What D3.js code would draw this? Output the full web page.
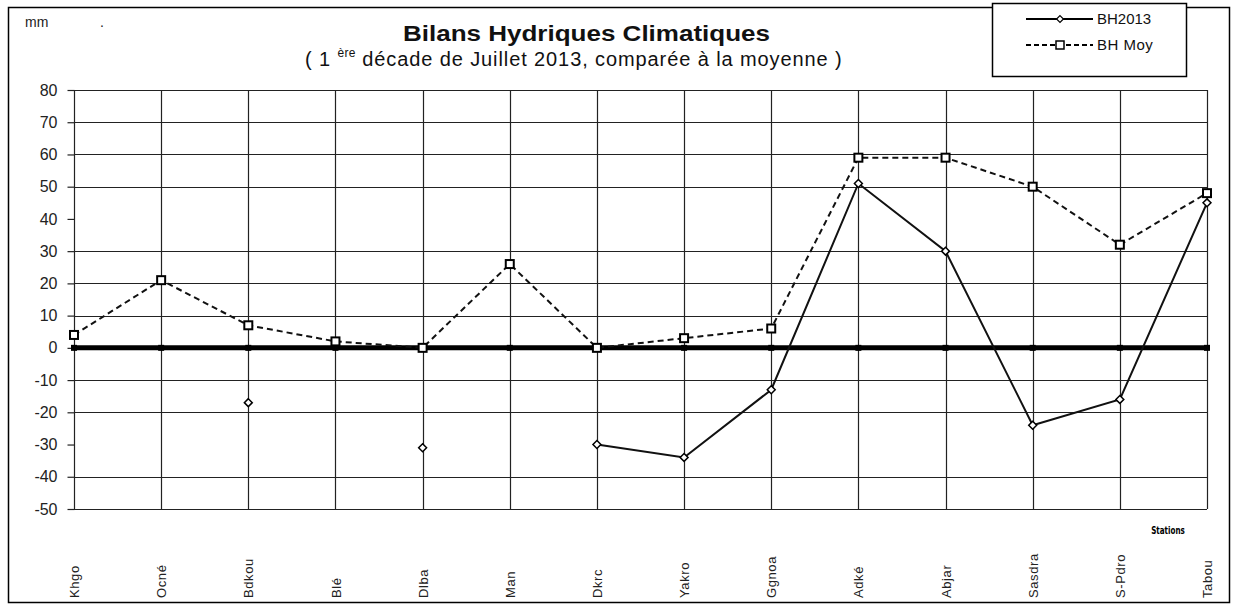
<!DOCTYPE html>
<html><head><meta charset="utf-8">
<script src="https://cdn.jsdelivr.net/npm/d3@7"></script>
<style>
html,body{margin:0;padding:0;background:#fff;}
svg{display:block;font-family:"Liberation Sans",Arial,sans-serif;}
</style></head>
<body>
<svg id="c" width="1238" height="608"></svg>
<script>
const stations = ["Khgo","Ocné","Bdkou","Blé","Dlba","Man","Dkrc","Yakro","Ggnoa","Adké","Abjar","Sasdra","S-Pdro","Tabou"];
const bh2013 = [null,null,-17,null,-31,null,-30,-34,-13,51,30,-24,-16,45];
const bhMoy = [4,21,7,2,0,26,0,3,6,59,59,50,32,48];
const baseline = [0,0,0,0,0,0,0,0,0,0,0,0,0,0];
const yTicks = [80,70,60,50,40,30,20,10,0,-10,-20,-30,-40,-50];
const yGrid = [80,70,60,50,30,20,10,-10,-20,-40,-50];

const svg = d3.select("#c");
const pL = 74, pR = 1207, pT = 90, pB = 509;

const x = d3.scalePoint().domain(stations).range([pL, pR]);
const y = d3.scaleLinear().domain([-50, 80]).range([pB, pT]);

// outer frame
svg.append("rect").attr("x",8.5).attr("y",7.5).attr("width",1221).attr("height",595)
  .attr("fill","none").attr("stroke","#000").attr("stroke-width",1.5);

// horizontal grid
svg.append("g").selectAll("line").data(yGrid).join("line")
  .attr("x1",pL).attr("x2",pR)
  .attr("y1",d=>Math.round(y(d))+0.5).attr("y2",d=>Math.round(y(d))+0.5)
  .attr("stroke","#222").attr("stroke-width",1.2);
// vertical grid
svg.append("g").selectAll("line").data(stations).join("line")
  .attr("x1",d=>Math.round(x(d))+0.5).attr("x2",d=>Math.round(x(d))+0.5)
  .attr("y1",pT).attr("y2",pB)
  .attr("stroke","#222").attr("stroke-width",1.2);

// y axis
const yAxis = d3.axisLeft(y).tickValues(yTicks).tickSize(7).tickPadding(10)
  .tickFormat(d=>String(d));
const ga = svg.append("g").attr("transform",`translate(${pL+0.5},0)`).call(yAxis);
ga.select(".domain").remove();
ga.selectAll(".tick line").attr("stroke","#222").attr("stroke-width",1.2);
ga.selectAll(".tick text").attr("font-size",16).attr("fill","#222")
  .attr("font-family","'Liberation Sans',Arial,sans-serif");

// x axis labels (rotated)
const xAxis = d3.axisBottom(x).tickSize(0).tickPadding(0);
const gx = svg.append("g").attr("transform",`translate(0,598)`).call(xAxis);
gx.select(".domain").remove();
gx.selectAll(".tick text")
  .attr("transform","rotate(-90)")
  .attr("x",0).attr("y",0).attr("dy","0.35em")
  .attr("text-anchor","start")
  .attr("font-size",13).attr("letter-spacing",0.6).attr("fill","#222")
  .attr("font-family","'Liberation Sans',Arial,sans-serif");

// baseline thick zero series
const line = d3.line().defined(d=>d.v!==null).x(d=>x(d.k)).y(d=>y(d.v));
const bd = stations.map((k,i)=>({k,v:baseline[i]}));
svg.append("path").datum(bd).attr("d",line).attr("fill","none")
  .attr("stroke","#000").attr("stroke-width",5);
svg.append("g").selectAll("rect").data(bd).join("rect")
  .attr("x",d=>x(d.k)-3).attr("y",d=>y(d.v)-3).attr("width",6).attr("height",6).attr("fill","#000");

// BH Moy dashed
const md = stations.map((k,i)=>({k,v:bhMoy[i]}));
svg.append("path").datum(md).attr("d",line).attr("fill","none")
  .attr("stroke","#111").attr("stroke-width",2).attr("stroke-dasharray","6,4");
svg.append("g").selectAll("rect").data(md).join("rect")
  .attr("x",d=>x(d.k)-4).attr("y",d=>y(d.v)-4).attr("width",8).attr("height",8)
  .attr("fill","#fff").attr("stroke","#000").attr("stroke-width",2);

// BH2013 solid
const hd = stations.map((k,i)=>({k,v:bh2013[i]}));
svg.append("path").datum(hd).attr("d",line).attr("fill","none")
  .attr("stroke","#111").attr("stroke-width",2);
svg.append("g").selectAll("path").data(hd.filter(d=>d.v!==null)).join("path")
  .attr("d",d3.symbol(d3.symbolDiamond2, 40))
  .attr("transform",d=>`translate(${x(d.k)},${y(d.v)})`)
  .attr("fill","#fff").attr("stroke","#000").attr("stroke-width",1.5);

// titles
svg.append("text").attr("x",25).attr("y",27).attr("font-size",14).attr("fill","#222").text("mm");
svg.append("text").attr("x",100).attr("y",27).attr("font-size",14).attr("fill","#222").text(".");
svg.append("text").attr("x",403).attr("y",41)
  .attr("textLength",367).attr("lengthAdjust","spacingAndGlyphs")
  .attr("font-size",22).attr("font-weight","bold").attr("fill","#111").text("Bilans Hydriques Climatiques");
const st = svg.append("text").attr("x",305).attr("y",66)
  .attr("font-size",20).attr("fill","#111").attr("letter-spacing",0.9);
st.append("tspan").text("( 1 ");
st.append("tspan").attr("font-size",12).attr("letter-spacing",0.3).attr("dy",-9).text("ère");
st.append("tspan").attr("dy",9).text(" décade de Juillet 2013, comparée à la moyenne )");

// Stations label
svg.append("text").attr("x",1168).attr("y",534).attr("text-anchor","middle")
  .attr("font-size",10).attr("font-weight","bold")
  .attr("font-family","'DejaVu Sans Condensed','DejaVu Sans',sans-serif")
  .attr("transform","translate(1168,534) scale(0.8,1) translate(-1168,-534)")
  .text("Stations");

// legend
const lg = svg.append("g");
lg.append("rect").attr("x",992.5).attr("y",3.5).attr("width",194).attr("height",73)
  .attr("fill","#fff").attr("stroke","#000").attr("stroke-width",1.5);
lg.append("line").attr("x1",1026).attr("x2",1093).attr("y1",19).attr("y2",19)
  .attr("stroke","#000").attr("stroke-width",2);
lg.append("path").attr("d",d3.symbol(d3.symbolDiamond2,30)).attr("transform","translate(1060,19)")
  .attr("fill","#fff").attr("stroke","#000").attr("stroke-width",1.2);
lg.append("text").attr("x",1097).attr("y",24).attr("font-size",15).attr("fill","#111").text("BH2013");
lg.append("line").attr("x1",1026).attr("x2",1093).attr("y1",45).attr("y2",45)
  .attr("stroke","#000").attr("stroke-width",2).attr("stroke-dasharray","5,3");
lg.append("rect").attr("x",1056).attr("y",41).attr("width",8).attr("height",8)
  .attr("fill","#fff").attr("stroke","#000").attr("stroke-width",1.5);
lg.append("text").attr("x",1097).attr("y",50).attr("font-size",15).attr("letter-spacing",0.5).attr("fill","#111").text("BH Moy");
</script>
</body></html>
